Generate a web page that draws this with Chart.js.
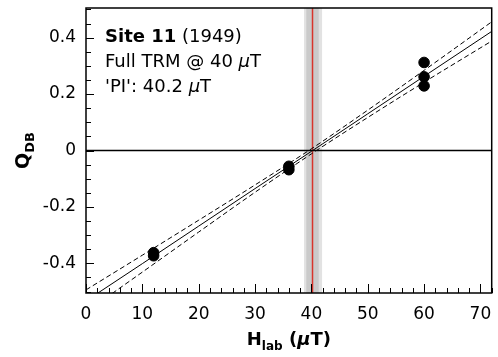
<!DOCTYPE html>
<html>
<head>
<meta charset="utf-8">
<script src="https://cdn.jsdelivr.net/npm/chart.js@4.4.0/dist/chart.umd.min.js"></script>
<style>
  html, body { margin: 0; padding: 0; background: #fff; }
  #wrap { width: 498px; height: 357px; }
</style>
</head>
<body>
<div id="wrap"><canvas id="chart" width="498" height="357"></canvas></div>
<script>
// measured Q_DB values
const hlabValues = [12, 12, 36, 36, 60, 60, 60];
const qdbValues = [-0.362, -0.373, -0.056, -0.068, 0.312, 0.261, 0.229];

// best fit line and its confidence band
const fitX = [0, 10, 20, 30, 40, 50, 60, 72];
const fitY = [-0.533, -0.401, -0.268, -0.135, -0.003, 0.130, 0.263, 0.422];
const upperY = [-0.494, -0.371, -0.247, -0.122, 0.006, 0.143, 0.284, 0.456];
const lowerY = [-0.572, -0.431, -0.289, -0.148, -0.012, 0.117, 0.242, 0.388];

// paleointensity estimate and its error bands
const piValue = 40.2;
const piOuterBand = [38.7, 41.9];
const piInnerBand = [39.1, 41.3];

const xTicks = [0, 10, 20, 30, 40, 50, 60, 70];
const yTicks = [-0.4, -0.2, 0, 0.2, 0.4];
const xMinorStep = 2;
const yMinorStep = 0.05;

const FONT = "'DejaVu Sans', sans-serif";

function toPoints(xs, ys) {
  return xs.map((x, i) => ({ x: x, y: ys[i] }));
}

// band + zero line go under the data
const underlayPlugin = {
  id: "underlay",
  beforeDatasetsDraw(chart) {
    const { ctx, chartArea, scales } = chart;
    const xs = scales.x;
    const ys = scales.y;
    ctx.save();
    ctx.beginPath();
    ctx.rect(chartArea.left, chartArea.top, chartArea.width, chartArea.height);
    ctx.clip();

    let a = xs.getPixelForValue(piOuterBand[0]);
    let b = xs.getPixelForValue(piOuterBand[1]);
    ctx.fillStyle = "#e2e2e2";
    ctx.fillRect(a, chartArea.top, b - a, chartArea.height);
    a = xs.getPixelForValue(piInnerBand[0]);
    b = xs.getPixelForValue(piInnerBand[1]);
    ctx.fillStyle = "#cacaca";
    ctx.fillRect(a, chartArea.top, b - a, chartArea.height);

    const px = xs.getPixelForValue(piValue);
    ctx.strokeStyle = "#d8342c";
    ctx.lineWidth = 1.5;
    ctx.beginPath();
    ctx.moveTo(px, chartArea.top);
    ctx.lineTo(px, chartArea.bottom);
    ctx.stroke();

    const y0 = ys.getPixelForValue(0);
    ctx.strokeStyle = "#000";
    ctx.lineWidth = 1.5;
    ctx.beginPath();
    ctx.moveTo(chartArea.left, y0);
    ctx.lineTo(chartArea.right, y0);
    ctx.stroke();
    ctx.restore();
  },
};

// frame, inward ticks, titles and the text box
const overlayPlugin = {
  id: "overlay",
  afterDraw(chart) {
    const { ctx, chartArea, scales } = chart;
    const xs = scales.x;
    const ys = scales.y;
    const L = chartArea.left, R = chartArea.right, T = chartArea.top, B = chartArea.bottom;
    ctx.save();

    ctx.strokeStyle = "#000";
    ctx.lineWidth = 1;
    ctx.beginPath();
    // x ticks along bottom
    for (let v = 0; v <= xs.max + 1e-9; v += xMinorStep) {
      const p = Math.round(xs.getPixelForValue(v)) + 0.5;
      const major = xTicks.includes(Math.round(v * 1000) / 1000);
      ctx.moveTo(p, B);
      ctx.lineTo(p, B - (major ? 9 : 5));
    }
    // y ticks along left
    for (let v = -0.5; v <= 0.5 + 1e-9; v += yMinorStep) {
      const r = Math.round(v * 1000) / 1000;
      const p = Math.round(ys.getPixelForValue(r)) + 0.5;
      const major = yTicks.includes(r);
      ctx.moveTo(L, p);
      ctx.lineTo(L + (major ? 8 : 5), p);
    }
    ctx.stroke();

    ctx.lineWidth = 1.5;
    ctx.strokeRect(L, T, R - L, B - T);

    ctx.fillStyle = "#000";
    ctx.textBaseline = "alphabetic";
    ctx.textAlign = "left";

    // text box
    const tx = L + 19;
    let parts = [
      [["Site 11", "bold 18px " + FONT], [" (1949)", "18px " + FONT]],
      [["Full TRM @ 40 ", "18px " + FONT], ["\u03bc", "italic 18px " + FONT], ["T", "18px " + FONT]],
      [["'PI': 40.2 ", "18px " + FONT], ["\u03bc", "italic 18px " + FONT], ["T", "18px " + FONT]],
    ];
    parts.forEach((line, i) => {
      let x = tx;
      const y = T + 34 + i * 25;
      line.forEach(([s, f]) => {
        ctx.font = f;
        ctx.fillText(s, x, y);
        x += ctx.measureText(s).width;
      });
    });

    // x title: H_lab (μT)
    const xt = [
      ["H", "bold 18px " + FONT, 0],
      ["lab", "bold 12px " + FONT, 5],
      [" (", "bold 18px " + FONT, 0],
      ["\u03bc", "bold italic 18px " + FONT, 0],
      ["T)", "bold 18px " + FONT, 0],
    ];
    let w = 0;
    xt.forEach(([s, f]) => { ctx.font = f; w += ctx.measureText(s).width; });
    let x = (L + R) / 2 - w / 2;
    xt.forEach(([s, f, dy]) => {
      ctx.font = f;
      ctx.fillText(s, x, 345 + dy);
      x += ctx.measureText(s).width;
    });

    // y title: Q_DB rotated
    const yt = [
      ["Q", "bold 19px " + FONT, 0],
      ["DB", "bold 13px " + FONT, 5],
    ];
    w = 0;
    yt.forEach(([s, f]) => { ctx.font = f; w += ctx.measureText(s).width; });
    ctx.translate(29, (T + B) / 2);
    ctx.rotate(-Math.PI / 2);
    x = -w / 2;
    yt.forEach(([s, f, dy]) => {
      ctx.font = f;
      ctx.fillText(s, x, dy);
      x += ctx.measureText(s).width;
    });
    ctx.restore();
  },
};

new Chart(document.getElementById("chart"), {
  type: "scatter",
  data: {
    datasets: [
      {
        data: toPoints(fitX, upperY),
        showLine: true,
        borderColor: "#000",
        borderWidth: 1,
        borderDash: [5, 3],
        pointRadius: 0,
        cubicInterpolationMode: "monotone",
      },
      {
        data: toPoints(fitX, lowerY),
        showLine: true,
        borderColor: "#000",
        borderWidth: 1,
        borderDash: [5, 3],
        pointRadius: 0,
        cubicInterpolationMode: "monotone",
      },
      {
        data: toPoints(fitX, fitY),
        showLine: true,
        borderColor: "#000",
        borderWidth: 1,
        pointRadius: 0,
      },
      {
        data: toPoints(hlabValues, qdbValues),
        backgroundColor: "#000",
        borderColor: "#000",
        pointRadius: 5.3,
        pointHoverRadius: 5.3,
      },
    ],
  },
  options: {
    responsive: false,
    animation: false,
    events: [],
    layout: { padding: { top: 8, right: 6, left: 0, bottom: 0 } },
    plugins: { legend: { display: false }, tooltip: { enabled: false } },
    scales: {
      x: {
        type: "linear",
        min: 0,
        max: 72,
        afterBuildTicks: (s) => { s.ticks = xTicks.map((v) => ({ value: v })); },
        afterFit: (s) => {
          s.height = 64;
          s.paddingLeft = 0;
          s.paddingRight = 0;
        },
        grid: { display: false, drawTicks: false },
        border: { display: false },
        ticks: { color: "#000", padding: 11, font: { family: "DejaVu Sans", size: 17 } },
      },
      y: {
        type: "linear",
        min: -0.505,
        max: 0.505,
        afterBuildTicks: (s) => { s.ticks = yTicks.map((v) => ({ value: v })); },
        afterFit: (s) => {
          s.width = 86;
          s.paddingTop = 0;
          s.paddingBottom = 0;
        },
        grid: { display: false, drawTicks: false },
        border: { display: false },
        ticks: {
          color: "#000",
          padding: 10,
          font: { family: "DejaVu Sans", size: 17 },
          callback: (v) => (v === 0 ? "0" : String(Math.round(v * 10) / 10)),
        },
      },
    },
  },
  plugins: [underlayPlugin, overlayPlugin],
});
</script>
</body>
</html>
